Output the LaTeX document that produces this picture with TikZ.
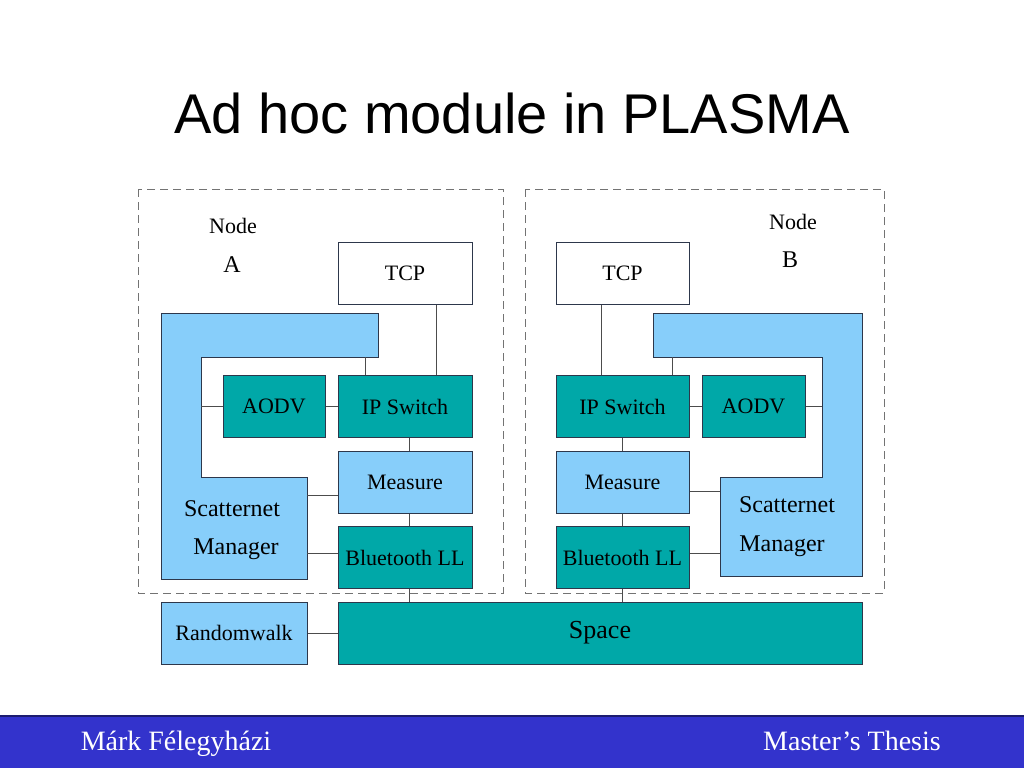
\documentclass[tikz,border=0pt]{standalone}
\usepackage{fontspec}
\setmainfont{Liberation Serif}
\newfontfamily\titlefont{Liberation Sans}

\definecolor{skyfill}{RGB}{135,206,250}
\definecolor{tealfill}{RGB}{0,168,168}
\definecolor{boxline}{RGB}{45,55,75}
\definecolor{barblue}{RGB}{51,51,204}

\begin{document}
\begin{tikzpicture}[x=1pt, y=-1pt]
\tikzstyle{every node} = [font=\fontsize{22}{24}\selectfont, inner sep=0pt]
\tikzstyle{blk} = [draw=boxline, line width=1pt, minimum width=134pt, minimum height=62pt]
\tikzstyle{tealbox} = [blk, fill=tealfill]
\tikzstyle{skybox} = [blk, fill=skyfill]
\tikzstyle{wire} = [draw=black!70, line width=1pt]
\tikzstyle{frame} = [draw=black!55, line width=1pt, dash pattern=on 8pt off 5pt]
\useasboundingbox (0,0) rectangle (1024,768);

\node (title) at (512,113) {\titlefont\fontsize{56}{60}\selectfont Ad hoc module in PLASMA};

% node frames
\draw[frame] (138,189) rectangle (503,593);
\draw[frame] (525,189) rectangle (884,593);

% scatternet managers
\coordinate (smA3) at (201,357);
\coordinate (smA5) at (307,477);
\coordinate (smAtap) at (365,357);
\draw[blk, fill=skyfill] (161,313) -- (378,313) -- (378,357) -- (201,357) -- (201,477)
  -- (307,477) -- (307,579) -- (161,579) -- cycle;
\coordinate (smB5) at (720,477);
\coordinate (smB6) at (822,357);
\coordinate (smBtap) at (672,357);
\draw[blk, fill=skyfill] (653,313) -- (862,313) -- (862,576) -- (720,576) -- (720,477)
  -- (822,477) -- (822,357) -- (653,357) -- cycle;
\node[font=\fontsize{24}{26}\selectfont] (smAtop) at (232,509) {Scatternet};
\node[font=\fontsize{24}{26}\selectfont] (smAbot) at (236,549) {Manager};
\node[font=\fontsize{24}{26}\selectfont] (smBtop) at (787,505) {Scatternet};
\node[font=\fontsize{24}{26}\selectfont] (smBbot) at (782,546) {Manager};

% labels
\node (nodeA) at (233,226) {Node};
\node[font=\fontsize{24}{26}\selectfont] (lblA) at (232,265) {A};
\node (nodeB) at (793,222) {Node};
\node[font=\fontsize{24}{26}\selectfont] (lblB) at (790,260) {B};

% node A
\node[blk, fill=white] (tcpA) at (405,273) {TCP};
\node[tealbox] (ipA) at (405,406.5) {IP Switch};
\node[tealbox, minimum width=102pt] (aodvA) at (274,406.5) {AODV};
\node[skybox] (measA) at (405,482) {Measure};
\node[tealbox] (btA) at (405,557.5) {Bluetooth LL};

% node B
\node[blk, fill=white, minimum width=133pt] (tcpB) at (622.5,273) {TCP};
\node[tealbox, minimum width=133pt] (ipB) at (622.5,406.5) {IP Switch};
\node[tealbox, minimum width=103pt] (aodvB) at (753.5,406.5) {AODV};
\node[skybox, minimum width=133pt] (measB) at (622.5,482) {Measure};
\node[tealbox, minimum width=133pt] (btB) at (622.5,557.5) {Bluetooth LL};

% shared
\node[skybox, minimum width=146pt] (rw) at (234,633) {Randomwalk};
\node[tealbox, minimum width=524pt, font=\fontsize{26}{28}\selectfont] (space) at (600,633) {Space};

% connectors
\foreach \from/\to in {aodvA.east/ipA.west, ipB.east/aodvB.west,
  ipB.south/measB.north, measB.south/btB.north, rw.east/space.west}
\draw[wire] (\from) -- (\to);
\foreach \from/\to in {ipA.south/measA.north, measA.south/btA.north}
\draw[wire] ([xshift=4pt]\from) -- ([xshift=4pt]\to);
\draw[wire] ([xshift=31pt]tcpA.south) -- ([xshift=31pt]tcpA.south |- ipA.north);
\draw[wire] ([xshift=-21.5pt]tcpB.south) -- ([xshift=-21.5pt]tcpB.south |- ipB.north);
\draw[wire] (smAtap) -- (smAtap |- ipA.north);
\draw[wire] (smBtap) -- (smBtap |- ipB.north);
\draw[wire] (aodvA.west) -- (aodvA.west -| smA3);
\draw[wire] (aodvB.east) -- (aodvB.east -| smB6);
\coordinate (mA) at ([yshift=-13pt]measA.west);
\coordinate (bA) at ([yshift=4.5pt]btA.west);
\coordinate (mB) at ([yshift=-9pt]measB.east);
\coordinate (bB) at ([yshift=4.5pt]btB.east);
\draw[wire] (mA) -- (mA -| smA5);
\draw[wire] (bA) -- (bA -| smA5);
\draw[wire] (mB) -- (mB -| smB5);
\draw[wire] (bB) -- (bB -| smB5);
\draw[wire] ([xshift=4pt]btA.south) -- ([xshift=4pt]btA.south |- space.north);
\draw[wire] (btB.south) -- (btB.south |- space.north);

% footer
\fill[barblue] (0,716) rectangle (1024,768);
\draw[barblue!55!black, line width=1.5pt] (0,716) -- (1024,716);
\node[text=white, anchor=base, font=\fontsize{28}{30}\selectfont] (author) at (176,750) {Márk Félegyházi};
\node[text=white, anchor=base, font=\fontsize{28}{30}\selectfont] (thesis) at (852,750) {Master’s Thesis};
\end{tikzpicture}
\end{document}
